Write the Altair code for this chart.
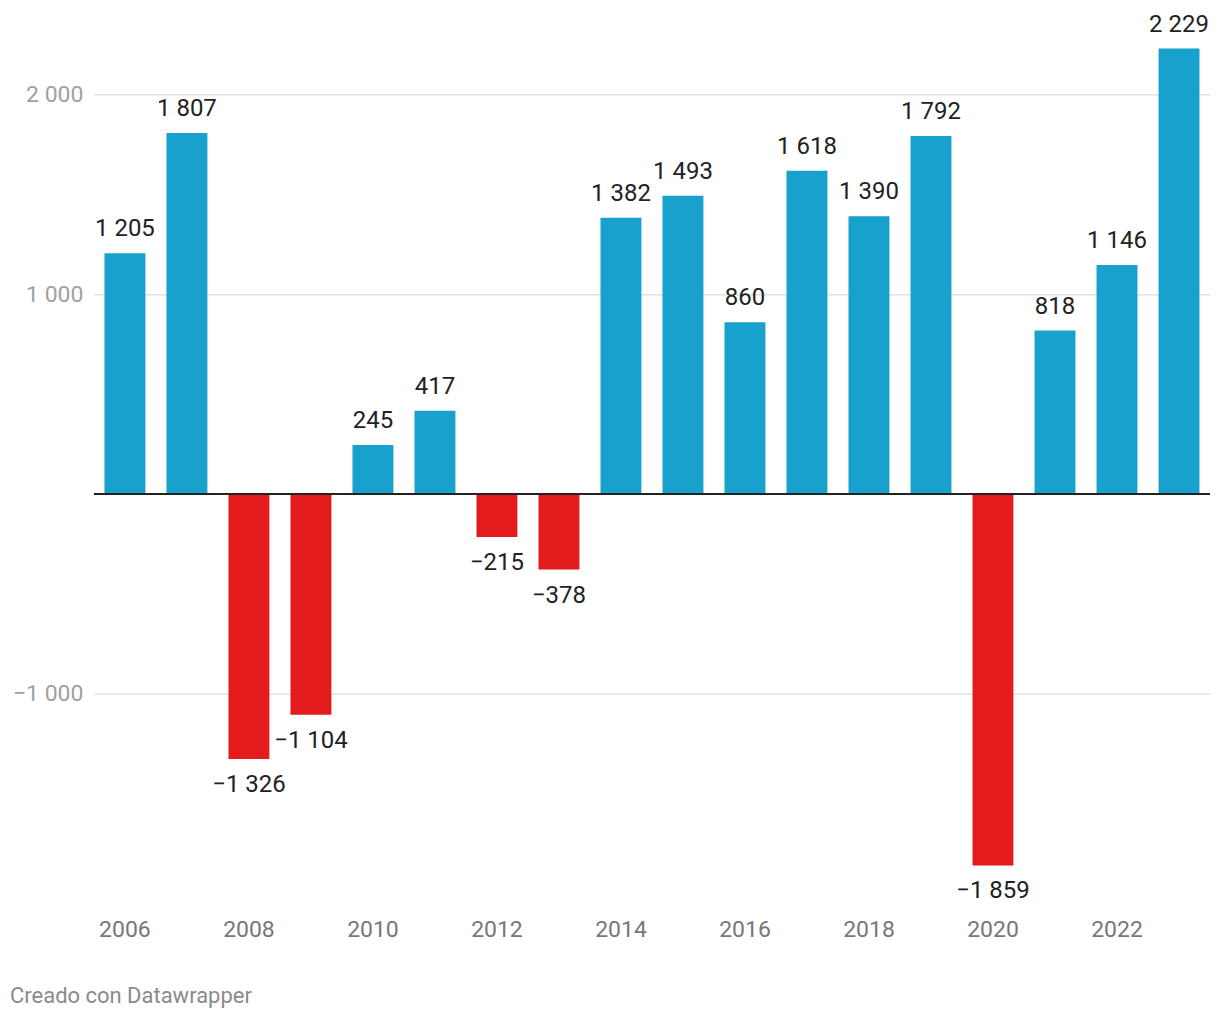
import altair as alt
import pandas as pd

years = [str(y) for y in range(2006, 2024)]
values = [1205, 1807, -1326, -1104, 245, 417, -215, -378, 1382, 1493, 860,
          1618, 1390, 1792, -1859, 818, 1146, 2229]
tick_years = ["2006", "2008", "2010", "2012", "2014", "2016", "2018", "2020", "2022"]
y_ticks = [-1000, 1000, 2000]
footer = "Creado con Datawrapper"

df = pd.DataFrame({"year": years, "value": values})
df["sign"] = ["pos" if v >= 0 else "neg" for v in values]

FONT = "Roboto"
fmt = "replace(format(datum.value, ','), ',', ' ')"

x = alt.X("year:O",
          scale=alt.Scale(paddingInner=0.34, paddingOuter=0.17),
          axis=alt.Axis(title=None, values=tick_years, labelAngle=0, domain=False,
                        ticks=False, labelPadding=13, labelFontSize=23,
                        labelColor="#777777", labelFont=FONT, grid=False))
yscale = alt.Scale(domain=[-2060, 2300], nice=False, zero=False)

base = alt.Chart(df)

bars = base.mark_bar().encode(
    x=x,
    y=alt.Y("value:Q", scale=yscale,
            axis=alt.Axis(title=None, values=y_ticks, domain=False, ticks=False,
                          labelPadding=11, labelFontSize=23, labelColor="#a0a0a0",
                          labelFont=FONT, gridColor="#e2e2e2", gridWidth=1.5,
                          labelExpr=fmt)),
    color=alt.Color("sign:N", scale=alt.Scale(domain=["pos", "neg"],
                                              range=["#18a1cd", "#e31b1d"]),
                    legend=None),
)

zero = alt.Chart(pd.DataFrame({"v": [0]})).mark_rule(color="#222222", strokeWidth=2).encode(
    y=alt.Y("v:Q", scale=yscale)
)

label_expr = "replace(format(datum.value, ','), ',', ' ')"
pos_text = base.transform_filter("datum.value >= 0").transform_calculate(
    lab=label_expr).mark_text(baseline="bottom", dy=-12, fontSize=24, font=FONT,
                              color="#222222").encode(x=x, y=alt.Y("value:Q", scale=yscale),
                                                      text="lab:N")
neg_text = base.transform_filter("datum.value < 0").transform_calculate(
    lab=label_expr).mark_text(baseline="top", dy=14, fontSize=24, font=FONT,
                              color="#222222").encode(x=x, y=alt.Y("value:Q", scale=yscale),
                                                      text="lab:N")

foot = alt.Chart(pd.DataFrame({"t": [footer]})).mark_text(
    align="left", baseline="middle", fontSize=22, font=FONT, color="#8a8a8a"
).encode(x=alt.value(-84), y=alt.value(962), text="t:N")

chart = alt.layer(bars, zero, pos_text, neg_text, foot).properties(
    width=1117, height=872,
    padding={"left": 86, "top": 26, "right": 2, "bottom": 110},
    autosize=alt.AutoSizeParams(type="none"),
).configure(background="white").configure_view(stroke=None)

chart.save("out.html", embed_options={"renderer": "svg", "actions": False})
